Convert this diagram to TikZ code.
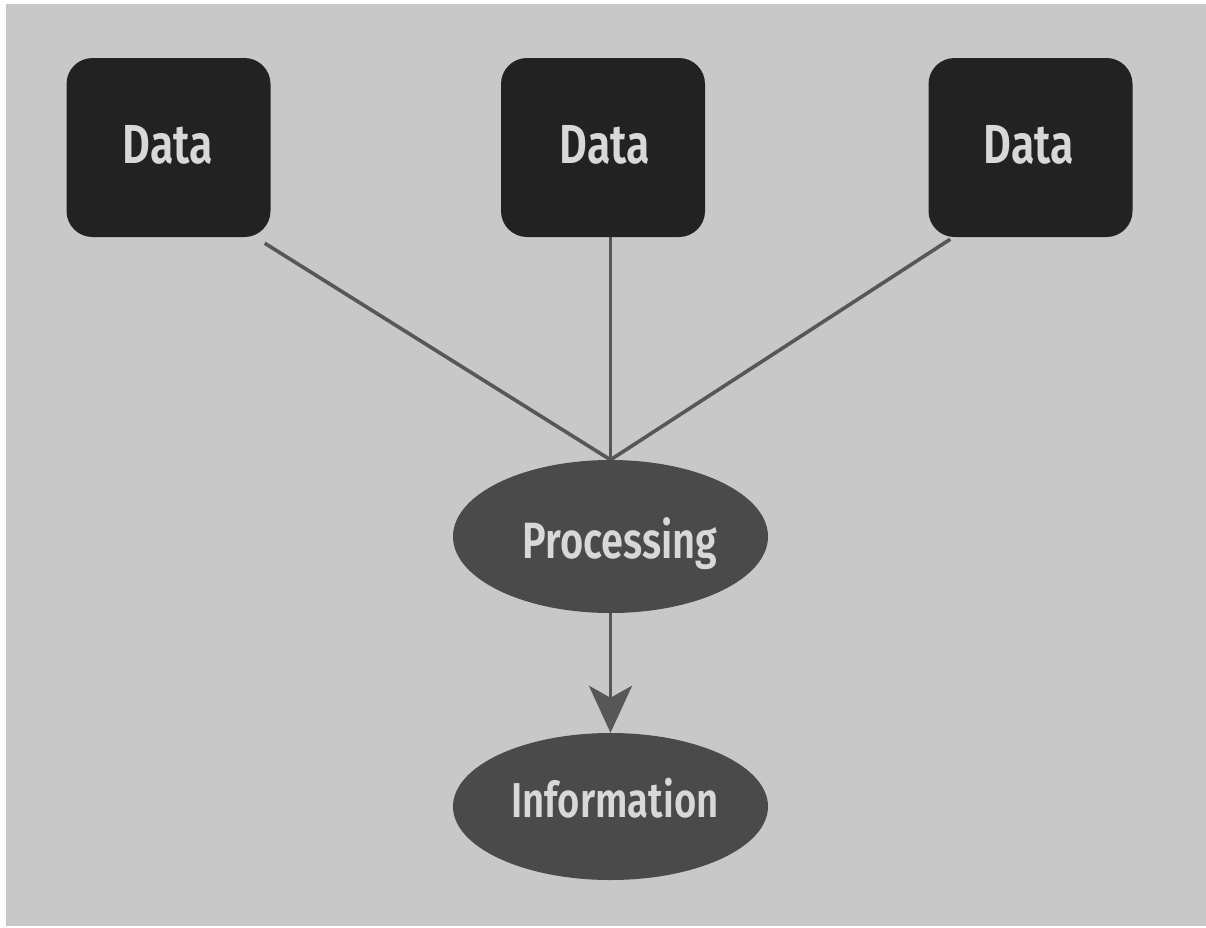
\documentclass[tikz,border=0pt]{standalone}
\usepackage{fontspec}
\setmainfont{Fira Sans}
\newfontfamily\lab[FakeStretch=0.78, BoldFont={* SemiBold}]{Fira Sans}
\usetikzlibrary{arrows.meta,shapes.geometric}
\pgfdeclarelayer{bgl}
\pgfdeclarelayer{lines}
\pgfsetlayers{bgl,lines,main}
\definecolor{bgc}{HTML}{C8C8C8}
\definecolor{boxc}{HTML}{222222}
\definecolor{ellc}{HTML}{4A4A4A}
\definecolor{linec}{HTML}{575757}
\definecolor{txtc}{HTML}{D8D8D8}
\tikzset{
  databox/.style={draw=none, fill=boxc, rounded corners=26pt, minimum width=204pt, minimum height=179pt},
  procell/.style={draw=none, fill=ellc, ellipse, minimum width=315pt, minimum height=153pt},
  txt/.style={text=txtc, anchor=base, inner sep=0pt, font=\lab\bfseries},
  conn/.style={draw=linec, line width=3.6pt},
}
\begin{document}
\begin{tikzpicture}[x=1pt,y=-1pt]
\begin{pgfonlayer}{bgl}
\fill[white] (0,0) rectangle (1206,927);
\fill[bgc] (6,4) rectangle (1206,926);
\end{pgfonlayer}
\useasboundingbox (0,0) rectangle (1206,927);
\node[databox] (d1) at (168.5,147.5) {};
\node[databox] (d2) at (603,147.5) {};
\node[databox] (d3) at (1030.5,147.5) {};
\node[procell] (p) at (610.5,536.5) {};
\node[procell, minimum height=147pt] (i) at (610.5,806.5) {};
\node[txt, font=\lab\bfseries\fontsize{55}{60}\selectfont] (t1) at (168,163) {Data};
\node[txt, font=\lab\bfseries\fontsize{55}{60}\selectfont] (t2) at (605,163) {Data};
\node[txt, font=\lab\bfseries\fontsize{55}{60}\selectfont] (t3) at (1029,163) {Data};
\node[txt, font=\lab\bfseries\fontsize{51}{56}\selectfont] (tp) at (620,558) {Processing};
\node[txt, font=\lab\bfseries\fontsize{49}{54}\selectfont] (ti) at (615,817) {Information};
\begin{pgfonlayer}{lines}
\draw[conn] ([shift={(-6pt,-6pt)}]d1.south east) -- (p.north);
\draw[conn] (d2.south -| p.north) -- (p.north);
\draw[conn] ([shift={(22pt,-2pt)}]d3.south west) -- (p.north);
\draw[conn, -{Stealth[length=47pt, width=43pt, inset=12pt]}] (p.south) -- (i.north);
\end{pgfonlayer}
\end{tikzpicture}
\end{document}
